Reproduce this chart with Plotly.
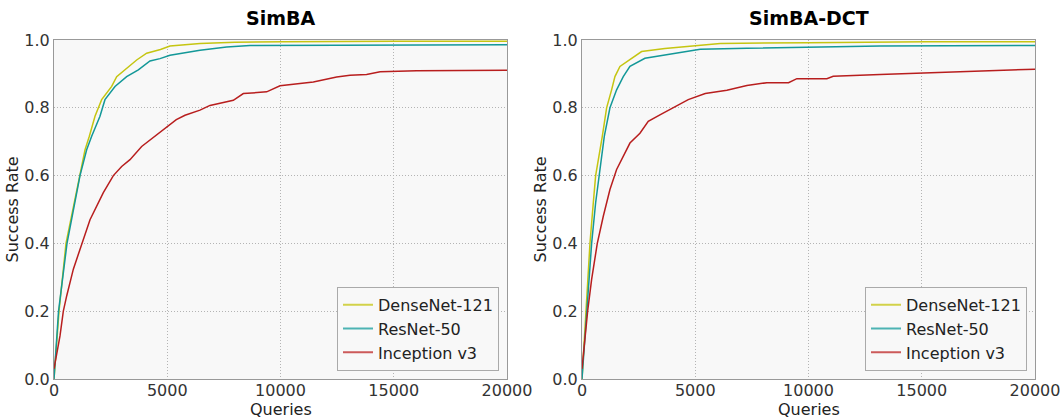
import plotly.graph_objects as go

# ---------------- data ----------------
series_names = ["DenseNet-121", "ResNet-50", "Inception v3"]
series_colors = ["#c5c511", "#139898", "#b81e1e"]
legend_colors = ["#d2d24a", "#4db3b3", "#cc5a5a"]

# SimBA (left panel)
simba_dense_q = [0, 221, 530, 883, 1118, 1368, 1560, 1810, 2104, 2546, 2767, 3135, 3650, 4091, 4700, 5121, 6446, 8000, 10110, 15000, 20000]
simba_dense_r = [0, 0.2, 0.4, 0.52, 0.6, 0.676, 0.716, 0.775, 0.824, 0.863, 0.892, 0.912, 0.941, 0.961, 0.972, 0.982, 0.99, 0.993, 0.995, 0.996, 0.996]

simba_res_q = [0, 200, 574, 927, 1148, 1442, 1663, 2030, 2250, 2693, 3208, 3723, 4238, 4680, 5121, 6446, 7624, 8653, 12000, 20000]
simba_res_r = [0, 0.2, 0.4, 0.52, 0.6, 0.676, 0.716, 0.775, 0.824, 0.863, 0.892, 0.912, 0.938, 0.945, 0.955, 0.97, 0.979, 0.984, 0.985, 0.986]

simba_inc_q = [0, 265, 412, 560, 854, 1221, 1590, 2178, 2620, 2987, 3355, 3870, 4680, 5400, 5784, 6446, 6887, 7917, 8359, 9389, 9978, 11449, 12480, 13068, 13800, 14400, 16010, 20000]
simba_inc_r = [0.03, 0.127, 0.2, 0.245, 0.324, 0.4, 0.47, 0.55, 0.6, 0.627, 0.647, 0.686, 0.728, 0.765, 0.778, 0.793, 0.807, 0.822, 0.842, 0.847, 0.865, 0.876, 0.891, 0.896, 0.898, 0.906, 0.909, 0.911]

# SimBA-DCT (right panel)
dct_dense_q = [0, 160, 352, 499, 602, 896, 1087, 1307, 1454, 1675, 2190, 2631, 3660, 4690, 6100, 10000, 15200, 20000]
dct_dense_r = [0, 0.2, 0.4, 0.52, 0.6, 0.716, 0.8, 0.853, 0.892, 0.922, 0.946, 0.966, 0.975, 0.982, 0.99, 0.992, 0.995, 0.995]

dct_res_q = [0, 204, 425, 602, 749, 984, 1234, 1528, 1822, 2117, 2778, 3954, 4337, 5220, 7280, 9928, 13160, 20000]
dct_res_r = [0, 0.2, 0.4, 0.52, 0.6, 0.716, 0.8, 0.853, 0.892, 0.922, 0.946, 0.959, 0.964, 0.973, 0.976, 0.979, 0.982, 0.984]

dct_inc_q = [0, 131, 249, 425, 675, 940, 1234, 1528, 1822, 2117, 2558, 2925, 3440, 4102, 4690, 5440, 6397, 7280, 8162, 9118, 9486, 10810, 11090, 13160, 15055, 16250, 18310, 20000]
dct_inc_r = [0.03, 0.127, 0.2, 0.294, 0.4, 0.48, 0.559, 0.618, 0.657, 0.696, 0.725, 0.76, 0.779, 0.804, 0.824, 0.842, 0.852, 0.866, 0.874, 0.874, 0.886, 0.886, 0.893, 0.898, 0.902, 0.906, 0.911, 0.914]

panel_titles = ["SimBA", "SimBA-DCT"]
x_title = "Queries"
y_title = "Success Rate"
x_ticks = [0, 5000, 10000, 15000, 20000]
x_tick_labels = ["0", "5000", "10000", "15000", "20000"]
y_ticks = [0.0, 0.2, 0.4, 0.6, 0.8, 1.0]
y_tick_labels = ["0.0", "0.2", "0.4", "0.6", "0.8", "1.0"]

panels = [
    [(simba_dense_q, simba_dense_r), (simba_res_q, simba_res_r), (simba_inc_q, simba_inc_r)],
    [(dct_dense_q, dct_dense_r), (dct_res_q, dct_res_r), (dct_inc_q, dct_inc_r)],
]

# ---------------- figure ----------------
FONT = "DejaVu Sans"
fig = go.Figure()

axes = [("x", "y", "legend"), ("x2", "y2", "legend2")]
for p, series in enumerate(panels):
    xa, ya, lg = axes[p]
    for i, (q, r) in enumerate(series):
        fig.add_trace(go.Scatter(x=q, y=r, mode="lines", xaxis=xa, yaxis=ya,
                                 line=dict(color=series_colors[i], width=1.5),
                                 showlegend=False, hoverinfo="skip"))
    for i, name in enumerate(series_names):
        fig.add_trace(go.Scatter(x=[None], y=[None], mode="lines", xaxis=xa, yaxis=ya,
                                 name=name, legend=lg,
                                 line=dict(color=legend_colors[i], width=2)))

W, H = 1062, 418
ml, mr, mt, mb = 54, 27, 40, 39
pw = W - ml - mr
d1 = [0, (507 - ml) / pw]
d2 = [(582 - ml) / pw, 1]

common_x = dict(range=[0, 20000], tickvals=x_ticks, ticktext=x_tick_labels, showgrid=True,
                gridcolor="#b4b4b4", griddash="1px,2px", gridwidth=1, zeroline=False,
                showline=True, mirror=True, automargin=False, ticklabelstandoff=-3,
                linecolor="#999999", linewidth=1, ticks="",
                tickfont=dict(family=FONT, size=16, color="#333333"))
common_y = dict(range=[0, 1], tickvals=y_ticks, ticktext=y_tick_labels, showgrid=True,
                gridcolor="#b4b4b4", griddash="1px,2px", gridwidth=1, zeroline=False,
                showline=True, mirror=True, automargin=False,
                linecolor="#999999", linewidth=1, ticks="",
                tickfont=dict(family=FONT, size=16, color="#333333"))

leg_common = dict(bgcolor="#f8f8f8", bordercolor="#aaaaaa", borderwidth=1,
                  font=dict(family=FONT, size=16, color="#222222"),
                  xanchor="right", yanchor="bottom", tracegroupgap=0, itemwidth=30)

fig.update_layout(
    width=W, height=H,
    margin=dict(l=ml, r=mr, t=mt, b=mb, autoexpand=False),
    paper_bgcolor="white", plot_bgcolor="#f8f8f8",
    font=dict(family=FONT),
    xaxis=dict(domain=d1, anchor="y", **common_x),
    yaxis=dict(domain=[0, 1], anchor="x", **common_y),
    xaxis2=dict(domain=d2, anchor="y2", **common_x),
    yaxis2=dict(domain=[0, 1], anchor="x2", **common_y),
    legend=dict(x=(499 - ml) / pw, y=0.024, **leg_common),
    legend2=dict(x=(1027 - ml) / pw, y=0.024, **leg_common),
)

for p, title in enumerate(panel_titles):
    dom = d1 if p == 0 else d2
    cx = (dom[0] + dom[1]) / 2
    fig.add_annotation(text="<b>" + title + "</b>", xref="paper", yref="paper",
                       x=cx, y=1, yshift=22, showarrow=False,
                       xanchor="center", yanchor="middle",
                       font=dict(family=FONT, size=19, color="#000000"))
    fig.add_annotation(text=x_title, xref="paper", yref="paper",
                       x=cx, y=0, yshift=-30, showarrow=False,
                       xanchor="center", yanchor="middle",
                       font=dict(family=FONT, size=16, color="#222222"))
    fig.add_annotation(text=y_title, xref="paper", yref="paper", textangle=-90,
                       x=dom[0], y=0.5, xshift=-42, showarrow=False,
                       xanchor="center", yanchor="middle",
                       font=dict(family=FONT, size=16, color="#222222"))

fig.write_html("out.html", config={"displayModeBar": False, "staticPlot": True},
               post_script="document.body.style.margin='0';")
